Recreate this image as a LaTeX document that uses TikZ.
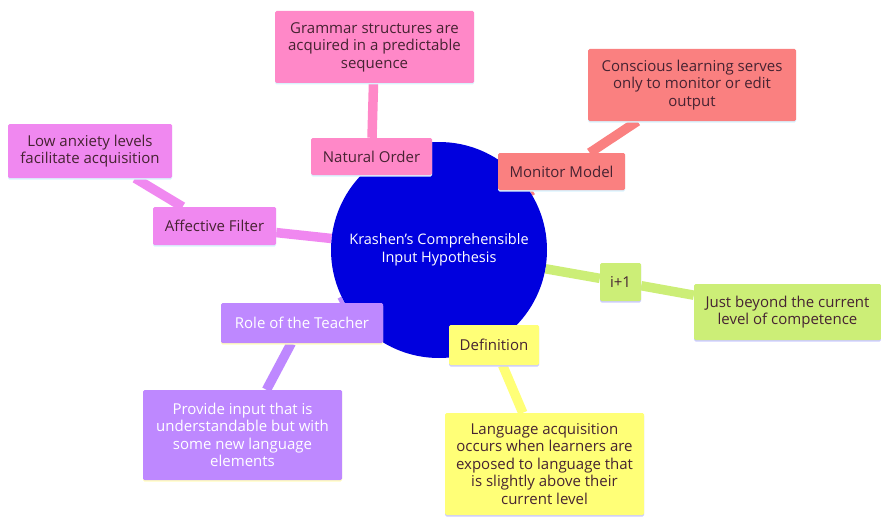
\documentclass[tikz,border=0pt]{standalone}
\usepackage{fontspec}
\setmainfont{Open Sans}
\usetikzlibrary{positioning,backgrounds,shadows}
\definecolor{chub}{RGB}{0,0,222}
\definecolor{cnat}{RGB}{255,136,200}
\definecolor{caff}{RGB}{240,136,240}
\definecolor{cmon}{RGB}{250,128,128}
\definecolor{cipl}{RGB}{204,238,119}
\definecolor{cdef}{RGB}{255,255,119}
\definecolor{crol}{RGB}{190,136,255}
\definecolor{ctxt}{RGB}{70,35,50}
\tikzset{
  hub/.style={circle, fill=chub, text=white, minimum size=216pt, inner sep=0pt,
              align=center, font=\fontsize{14.5}{18}\selectfont},
  box/.style={rectangle, rounded corners=1.5pt, inner sep=2pt, align=center,
              text=ctxt, font=\fontsize{15}{17.5}\selectfont},
  tbox/.style={box, general shadow={fill=#1, shadow yshift=-1.5pt}},
  lnk/.style={line width=9.5pt, line cap=butt},
}

\begin{document}
\begin{tikzpicture}[x=1pt, y=-1pt]
  \useasboundingbox (0,0) rectangle (881,519);
  \node[hub] (hub) at (439,250) {Krashen's Comprehensible\\Input Hypothesis};
  % natural order
  \node[tbox=cyan!15, fill=cnat, minimum width=121pt, minimum height=37pt] (nat) at (371.5,156.5) {Natural Order};
  \node[tbox=cyan!15, fill=cnat, minimum width=199pt, minimum height=72pt] (natl) at (374.5,47)
    {Grammar structures are\\acquired in a predictable\\sequence};
  % affective filter
  \node[tbox=cyan!15, fill=caff, minimum width=123pt, minimum height=38pt] (aff) at (214.5,226) {Affective Filter};
  \node[tbox=cyan!15, fill=caff, minimum width=164pt, minimum height=54pt] (affl) at (90,151)
    {Low anxiety levels\\facilitate acquisition};
  % monitor model
  \node[tbox=cyan!15, fill=cmon, minimum width=127pt, minimum height=37pt] (mon) at (561.5,171.5) {Monitor Model};
  \node[tbox=cyan!15, fill=cmon, minimum width=208pt, minimum height=72pt] (monl) at (692,85)
    {Conscious learning serves\\only to monitor or edit\\output};
  % i+1
  \node[tbox=blue!20, fill=cipl, minimum width=41pt, minimum height=38pt] (ipl) at (620.5,282) {i+1};
  \node[tbox=blue!20, fill=cipl, minimum width=187pt, minimum height=56pt] (ipll) at (787.5,312)
    {Just beyond the current\\level of competence};
  % definition
  \node[tbox=blue!20, fill=cdef, minimum width=90pt, minimum height=40pt] (def) at (494,345) {Definition};
  \node[tbox=blue!20, fill=cdef, minimum width=199pt, minimum height=102pt] (defl) at (544.5,464)
    {Language acquisition\\occurs when learners are\\exposed to language that\\is slightly above their\\current level};
  % role of the teacher
  \node[tbox=yellow!25, fill=crol, text=white, minimum width=162pt, minimum height=40pt] (rol) at (302,323) {Role of the Teacher};
  \node[tbox=yellow!25, fill=crol, text=white, minimum width=199pt, minimum height=90pt] (roll) at (242.5,435)
    {Provide input that is\\understandable but with\\some new language\\elements};
  \begin{pgfonlayer}{background}
    \draw[lnk, cnat] (hub) -- (nat) -- (natl);
    \draw[lnk, caff] (hub) -- (aff) -- (affl);
    \draw[lnk, cmon] (hub) -- (mon) -- (monl);
    \draw[lnk, cipl] (hub) -- (ipl) -- (ipll);
    \draw[lnk, cdef] (hub) -- (def) -- (defl);
    \draw[lnk, crol] (hub) -- (rol) -- (roll);
  \end{pgfonlayer}
\end{tikzpicture}
\end{document}
